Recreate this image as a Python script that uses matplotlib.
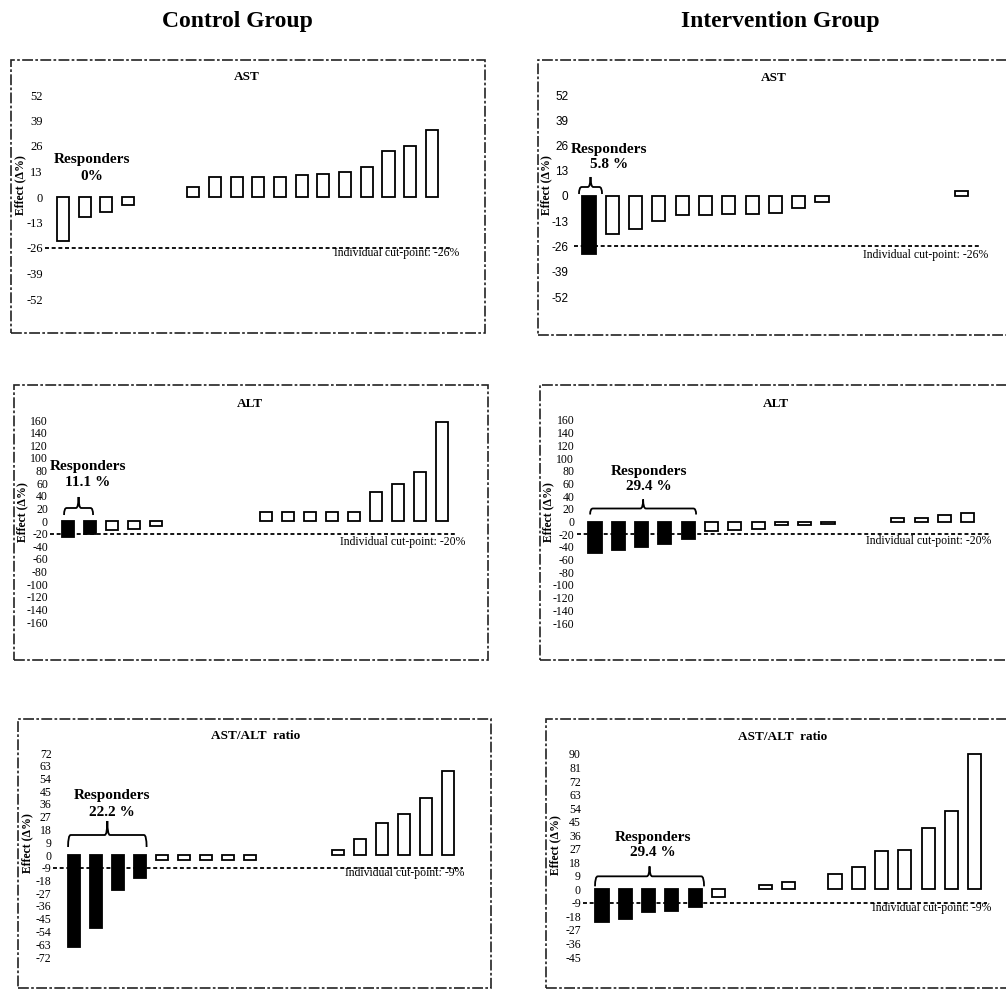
import numpy as np
import matplotlib
matplotlib.use('Agg')
from matplotlib import pyplot as plt
from matplotlib.patches import Rectangle, PathPatch
from matplotlib.path import Path

plt.rcParams['font.family'] = ['Liberation Serif', 'DejaVu Serif']

W, H = 1006, 992

# effect (delta %) per participant, sorted; 0 -> no visible bar
ctrl_ast = [-22.5, -10, -7.5, -4, 0, 0, 5, 10.2, 10.2, 10.2, 10.2, 11, 11.8, 12.8, 15.3, 23.4, 26, 34.4]
int_ast = [-30, -19.4, -17.1, -13, -9.6, -9.6, -9.1, -9.1, -8.6, -6, -3.3, 0, 0, 0, 0, 0, 2.7]
ctrl_alt = [-25, -21, -14.8, -12, -8, 0, 0, 0, 0, 13.7, 13.7, 13.7, 13.7, 13.7, 45.9, 58.5, 77.5, 156.6]
int_alt = [-50, -45, -40.4, -35.7, -28.3, -14.7, -13.6, -12, -5.8, -5.8, -4.7, 0, 0, 5.2, 6.3, 10, 13]
ctrl_ratio = [-65, -51.5, -24.5, -16, -3.8, -3.3, -3.3, -3.3, -3.3, 0, 0, 0, 3.8, 11.5, 22.6, 28.7, 40, 59.3]
int_ratio = [-21.5, -19.5, -15, -14.4, -11.5, -4.9, 0, 2.7, 5.1, 0, 10.4, 15, 25.5, 26.2, 40.6, 51.9, 89.8]

ast_ticks = [52, 39, 26, 13, 0, -13, -26, -39, -52]
alt_ticks = [160, 140, 120, 100, 80, 60, 40, 20, 0, -20, -40, -60, -80, -100, -120, -140, -160]
ctrl_ratio_ticks = [72, 63, 54, 45, 36, 27, 18, 9, 0, -9, -18, -27, -36, -45, -54, -63, -72]
int_ratio_ticks = [90, 81, 72, 63, 54, 45, 36, 27, 18, 9, 0, -9, -18, -27, -36, -45]

ast_cut, alt_cut, ratio_cut = -26, -20, -9
titles = ['AST', 'ALT', 'AST/ALT  ratio']
resp_labels = ['0%', '5.8 %', '11.1 %', '29.4 %', '22.2 %', '29.4 %']

def px(x, y):
    return x / W, 1 - y / H

fig = plt.figure(figsize=(W / 100, H / 100), dpi=100)

# layout of each panel in pixels
panels = [
    (ctrl_ast, ast_ticks, ast_cut, titles[0], resp_labels[0], (11, 60, 485, 333),
     45, 450, 95, 299, 63, 21.7, 1.5, 'Liberation Serif', 9, None,
     (247, 77), (92, 168), (459, 253), (20, 185)),
    (int_ast, ast_ticks, ast_cut, titles[0], resp_labels[1], (538, 60, 1015, 335),
     574, 980, 95, 297, 589, 23.3, 4, 'Liberation Sans', 8.5, (-0.43, 0.56, 2, 9, 19),
     (774, 78), (609, 157), (988, 255), (546, 185)),
    (ctrl_alt, alt_ticks, alt_cut, titles[1], resp_labels[2], (14, 385, 488, 660),
     50, 455, 420, 622, 68, 22.0, 1.5, 'Liberation Serif', 8.5, (-0.18, 1.14, 6, 13, 24),
     (250, 404), (88, 475), (465, 542), (22, 512)),
    (int_alt, alt_ticks, alt_cut, titles[1], resp_labels[3], (540, 385, 1015, 660),
     577, 990, 420, 623, 595, 23.3, 2, 'Liberation Serif', 8.5, (-0.21, 4.34, 7, 13, 22),
     (776, 404), (649, 479), (991, 541), (548, 512)),
    (ctrl_ratio, ctrl_ratio_ticks, ratio_cut, titles[2], resp_labels[4], (18, 719, 491, 988),
     53, 463, 753, 957, 74, 22.0, 1, 'Liberation Serif', 8.5, (-0.27, 3.3, 8, 20, 34),
     (256, 736), (112, 804), (464, 873), (27, 843)),
    (int_ratio, int_ratio_ticks, ratio_cut, titles[2], resp_labels[5], (546, 719, 1015, 988),
     583, 987, 754, 957, 602, 23.3, 1.5, 'Liberation Serif', 8.5, (-0.3, 4.38, 3, 13, 23),
     (783, 737), (653, 845), (991, 908), (555, 845)),
]

for (vals, ticks, cut, title, resp, frame, L, R, T, B, x0, step, pad, tfont, tsize,
     brace, title_xy, resp_xy, cut_xy, ylab_xy) in panels:
    # dash-dot frame
    fx0, fy1 = px(frame[0], frame[3])
    fig.add_artist(Rectangle((fx0, fy1), (frame[2] - frame[0]) / W, (frame[3] - frame[1]) / H,
                             transform=fig.transFigure, fill=False, edgecolor='#222222',
                             lw=1.2, ls=(0, (6.5, 1.4, 1.6, 1.4)), clip_on=False))

    ax = fig.add_axes([L / W, 1 - B / H, (R - L) / W, (B - T) / H])
    ax.set_xlim((L - x0) / step, (R - x0) / step)
    ax.set_ylim(min(ticks), max(ticks))
    for s in ax.spines.values():
        s.set_visible(False)
    ax.set_xticks([])
    ax.set_yticks(ticks)
    ax.set_yticklabels([str(t) for t in ticks], fontfamily=tfont, fontsize=tsize)
    ax.tick_params(axis='y', length=0, pad=pad)
    ax.patch.set_alpha(0)

    v = np.array(vals, dtype=float)
    idx = np.nonzero(v)[0]
    colors = ['black' if v[i] < cut else 'white' for i in idx]
    ax.axhline(cut, color='black', lw=1.3, ls=(0, (2.2, 1.5)), zorder=1)
    ax.bar(idx, v[idx], width=0.56, color=colors, edgecolor='black', lw=1.3, zorder=2,
           clip_on=False)

    if brace is not None:
        xl, xr, e, h, sp = brace
        k = (max(ticks) - min(ticks)) / (B - T)
        ye, yh, ys = e * k, h * k, sp * k
        xm = (xl + xr) / 2
        dx = 0.12
        verts = [(xl, ye), (xl, yh), (xl + dx, yh),
                 (xm - dx, yh), (xm, yh), (xm, ys),
                 (xm, yh), (xm + dx, yh),
                 (xr - dx, yh), (xr, yh), (xr, ye)]
        codes = [Path.MOVETO, Path.CURVE3, Path.CURVE3,
                 Path.LINETO, Path.CURVE3, Path.CURVE3,
                 Path.CURVE3, Path.CURVE3,
                 Path.LINETO, Path.CURVE3, Path.CURVE3]
        ax.add_patch(PathPatch(Path(verts, codes), fill=False, lw=1.3, edgecolor='black',
                               clip_on=False, zorder=3))

    fig.text(*px(*title_xy), title, ha='center', va='center', fontsize=9.5, fontweight='bold')
    fig.text(*px(*resp_xy), 'Responders\n' + resp, ha='center', va='center', fontsize=11,
             fontweight='bold', linespacing=1.3)
    fig.text(*px(*cut_xy), 'Individual cut-point: %d%%' % cut, ha='right', va='center',
             fontsize=8.5)
    fig.text(*px(*ylab_xy), 'Effect (\u0394%)', ha='center', va='center', rotation=90,
             fontsize=8.5, fontweight='bold')

fig.text(*px(237, 21), 'Control Group', ha='center', va='center', fontsize=17, fontweight='bold')
fig.text(*px(780, 22), 'Intervention Group', ha='center', va='center', fontsize=17,
         fontweight='bold')

fig.savefig('out.png', dpi=100)
